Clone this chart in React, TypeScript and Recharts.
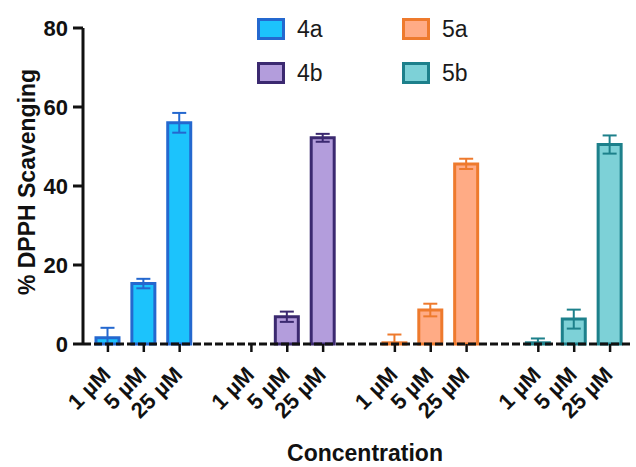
import React from "react";
import { BarChart, Bar, XAxis, YAxis, ErrorBar } from "recharts";

const CONCENTRATIONS = ["1 µM", "5 µM", "25 µM"];
const COMPOUNDS = ["4a", "4b", "5a", "5b"];

const MEAN_4A = [1.6, 15.3, 56.0];
const ERR_4A = [2.5, 1.2, 2.5];
const MEAN_4B = [0, 6.9, 52.2];
const ERR_4B = [0, 1.3, 1.0];
const MEAN_5A = [0.3, 8.6, 45.6];
const ERR_5A = [2.1, 1.6, 1.3];
const MEAN_5B = [0.3, 6.3, 50.5];
const ERR_5B = [1.1, 2.4, 2.3];

const Y_TICKS = [0, 20, 40, 60, 80];

const FILL: Record<string, string> = {
  "4a": "#1cc3fc",
  "4b": "#b39ddc",
  "5a": "#ffab85",
  "5b": "#7dd1d7",
};
const EDGE: Record<string, string> = {
  "4a": "#2468cf",
  "4b": "#3b2970",
  "5a": "#ee7a2d",
  "5b": "#1d808b",
};

const FONT = "'Liberation Sans', Arial, sans-serif";

const series = [
  { name: "4a", mean: MEAN_4A, err: ERR_4A },
  { name: "4b", mean: MEAN_4B, err: ERR_4B },
  { name: "5a", mean: MEAN_5A, err: ERR_5A },
  { name: "5b", mean: MEAN_5B, err: ERR_5B },
];

// one category per bar, with an empty category between compounds
const rows: Record<string, any>[] = [];
series.forEach((s, gi) => {
  if (gi > 0) rows.push({ conc: "" });
  CONCENTRATIONS.forEach((c, ci) => {
    const row: Record<string, any> = { conc: c, [`m_${s.name}`]: s.mean[ci] };
    if (s.err[ci] > 0) {
      row[`e_${s.name}`] = [Math.min(s.err[ci], s.mean[ci]), s.err[ci]];
    }
    rows.push(row);
  });
});

function ConcTick(props: any) {
  const { x, y, payload } = props;
  if (!payload.value) return <g />;
  const tx = x + 4;
  const ty = y + 32;
  return (
    <g>
      <line x1={x} x2={x} y1={y} y2={y + 8} stroke="#111" strokeWidth={2.5} />
      <text
        x={tx}
        y={ty}
        transform={`rotate(-45, ${tx}, ${ty})`}
        textAnchor="end"
        fontFamily={FONT}
        fontWeight="bold"
        fontSize={22}
        fill="#111"
      >
        {payload.value}
      </text>
    </g>
  );
}

function Legend() {
  return (
    <>
      {COMPOUNDS.map((name, i) => {
        const col = Math.floor(i / 2);
        const row = i % 2;
        return (
          <div
            key={name}
            style={{
              position: "absolute",
              left: 257 + col * 145,
              top: 18 + row * 44,
              height: 22,
              display: "flex",
              alignItems: "center",
              fontFamily: FONT,
              fontSize: 23,
              color: "#1a1a1a",
            }}
          >
            <div
              style={{
                width: 28,
                height: 22,
                boxSizing: "border-box",
                border: `3px solid ${EDGE[name]}`,
                background: FILL[name],
                marginRight: 12,
              }}
            />
            <span>{name}</span>
          </div>
        );
      })}
    </>
  );
}

export default function App() {
  return (
    <div
      style={{
        position: "absolute",
        left: 0,
        top: 0,
        width: 636,
        height: 467,
        background: "#fff",
      }}
    >
      <BarChart
        width={636}
        height={467}
        data={rows}
        margin={{ top: 28, right: 3, bottom: 0, left: 0 }}
      >
        <XAxis
          dataKey="conc"
          interval={0}
          height={123}
          padding={{ left: 7, right: 5 }}
          tickLine={false}
          tickSize={0}
          tickMargin={0}
          axisLine={{ stroke: "#111", strokeWidth: 3, strokeDasharray: "8 3" }}
          tick={<ConcTick />}
          label={{
            content: () => (
              <text
                x={365}
                y={461}
                textAnchor="middle"
                fontFamily={FONT}
                fontWeight="bold"
                fontSize={23}
                fill="#111"
              >
                Concentration
              </text>
            ),
          }}
        />
        <YAxis
          width={83}
          domain={[0, 80]}
          ticks={Y_TICKS}
          interval={0}
          tickSize={10}
          tickMargin={5}
          axisLine={{ stroke: "#111", strokeWidth: 3 }}
          tickLine={{ stroke: "#111", strokeWidth: 3 }}
          tick={{
            fill: "#111",
            fontFamily: FONT,
            fontWeight: "bold",
            fontSize: 22,
          }}
          label={{
            content: () => (
              <text
                x={35}
                y={182}
                transform="rotate(-90, 35, 182)"
                textAnchor="middle"
                fontFamily={FONT}
                fontWeight="bold"
                fontSize={23}
                fill="#111"
              >
                % DPPH Scavenging
              </text>
            ),
          }}
        />
        {series.map((s) => (
          <Bar
            key={s.name}
            dataKey={`m_${s.name}`}
            stackId="all"
            barSize={23}
            fill={FILL[s.name]}
            stroke={EDGE[s.name]}
            strokeWidth={3}
            isAnimationActive={false}
          >
            <ErrorBar
              dataKey={`e_${s.name}`}
              direction="y"
              width={7}
              stroke={EDGE[s.name]}
              strokeWidth={2}
              isAnimationActive={false}
            />
          </Bar>
        ))}
      </BarChart>
      <Legend />
    </div>
  );
}
